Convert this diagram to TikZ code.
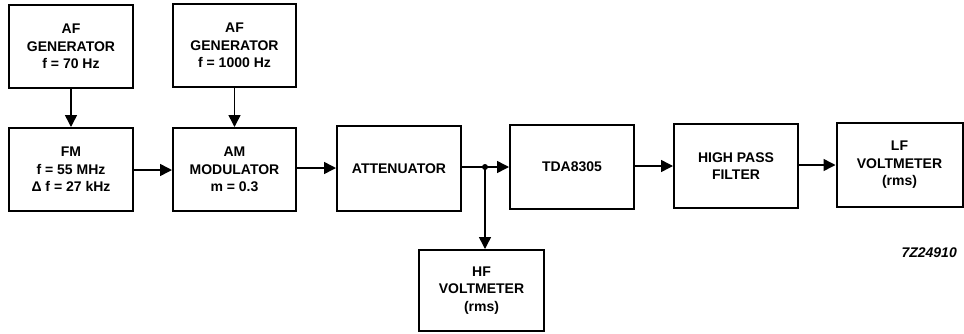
\documentclass[tikz,border=0pt]{standalone}
\usepackage{fontspec}
\setmainfont{Liberation Sans}
\usetikzlibrary{arrows.meta}
\begin{document}
\begin{tikzpicture}[x=1pt,y=-1pt,
  blk/.style={draw,line width=2pt,align=center,inner sep=0pt,
    font=\bfseries\fontsize{14}{17.5}\selectfont},
  conn/.style={line width=1.5pt,-{Triangle[length=12pt,width=12pt]}}]
\useasboundingbox (0,0) rectangle (964,333);
\node[blk,minimum width=124pt,minimum height=83pt] (af1) at (71,46.5) {AF\\GENERATOR\\f = 70 Hz};
\node[blk,minimum width=123pt,minimum height=83pt] (af2) at (234.5,45.5) {AF\\GENERATOR\\f = 1000 Hz};
\node[blk,minimum width=124pt,minimum height=83pt] (fm) at (71,169.5) {FM\\f = 55 MHz\\Δ f = 27 kHz};
\node[blk,minimum width=123pt,minimum height=83pt] (am) at (234.5,169.5) {AM\\MODULATOR\\m = 0.3};
\node[blk,minimum width=124pt,minimum height=85pt] (att) at (399,168.5) {ATTENUATOR};
\node[blk,minimum width=124pt,minimum height=84pt] (tda) at (572,167) {TDA8305};
\node[blk,minimum width=124pt,minimum height=84pt] (hpf) at (736,166) {HIGH PASS\\FILTER};
\node[blk,minimum width=126pt,minimum height=84pt] (lfv) at (899.5,165) {LF\\VOLTMETER\\(rms)};
\node[blk,minimum width=125pt,minimum height=81pt] (hfv) at (481.5,290.5) {HF\\VOLTMETER\\(rms)};
\node[font=\itshape\bfseries\fontsize{14}{16}\selectfont,anchor=east,inner sep=0pt] (lbl) at (957,253) {7Z24910};
\draw[conn] (af1) -- (af1 |- fm.north);
\draw[conn] (af2) -- (af2 |- am.north);
\draw[conn] (fm.east |- 0,170) -- (am.west |- 0,170);
\draw[conn] (am.east |- 0,168) -- (att.west |- 0,168);
\coordinate (j) at (485,167);
\draw[line width=1.5pt] (att.east |- j) -- (j);
\draw[conn] (j) -- (tda.west |- j);
\fill (j) circle (3pt);
\draw[conn] (j) -- (j |- hfv.north);
\draw[conn] (tda.east |- 0,166) -- (hpf.west |- 0,166);
\draw[conn] (hpf.east |- 0,165) -- (lfv.west |- 0,165);
\end{tikzpicture}
\end{document}
